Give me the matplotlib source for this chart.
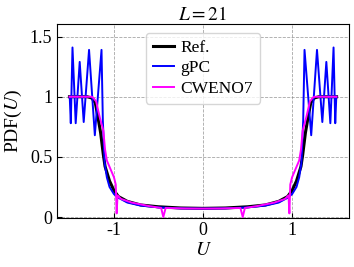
import numpy as np
import matplotlib
matplotlib.use("Agg")
import matplotlib.pyplot as plt

# values (left half; right half mirrors it)
ref_u = [-1.5, -1.3, -1.25, -1.21, -1.18, -1.15, -1.12, -1.10, -1.05, -1.0, -0.95, -0.85, -0.7, -0.5, -0.25, 0.0]
ref_p = [1.0, 1.0, 0.99, 0.95, 0.83, 0.7, 0.52, 0.42, 0.3, 0.22, 0.17, 0.13, 0.1, 0.085, 0.075, 0.072]

gpc_u = [-1.497, -1.485, -1.466, -1.43, -1.385, -1.34, -1.28, -1.215, -1.14, -1.125, -1.105, -1.08,
         -1.05, -1.0, -0.95, -0.85, -0.7, -0.5, -0.25, 0.0]
gpc_p = [1.0, 0.78, 1.41, 0.78, 1.29, 0.79, 1.39, 0.68, 1.39, 0.8, 0.45, 0.33,
         0.25, 0.19, 0.16, 0.12, 0.095, 0.08, 0.072, 0.07]

cw_u = [-1.5, -1.25, -1.23, -1.2, -1.16, -1.12, -1.1, -1.08, -1.04, -1.0, -0.98, -0.97, -0.96,
        -0.92, -0.8, -0.6, -0.47, -0.446, -0.42, -0.2, 0.0]
cw_p = [1.0, 1.0, 0.99, 0.96, 0.83, 0.72, 0.56, 0.47, 0.4, 0.33, 0.27, 0.03, 0.18,
        0.15, 0.12, 0.09, 0.075, 0.0, 0.075, 0.071, 0.07]

xticks = [-1, 0, 1]
xtick_labels = ["-1", "0", "1"]
yticks = [0, 0.5, 1, 1.5]
ytick_labels = ["0", "0.5", "1", "1.5"]


def mirror(u, p):
    u = np.array(u)
    p = np.array(p)
    return np.concatenate([u, -u[-2::-1]]), np.concatenate([p, p[-2::-1]])


plt.rcParams['font.family'] = 'Liberation Serif'
plt.rcParams['mathtext.fontset'] = 'stix'
plt.rcParams['axes.unicode_minus'] = False

fig = plt.figure(figsize=(3.54, 2.67), dpi=100)
ax = fig.add_axes([0.161, 0.185, 0.825, 0.725])

ax.plot(*mirror(ref_u, ref_p), color='black', lw=2.2, label='Ref.', zorder=3)
ax.plot(*mirror(gpc_u, gpc_p), color='#0000ff', lw=1.4, label='gPC', zorder=4)
ax.plot(*mirror(cw_u, cw_p), color='#ff00ff', lw=1.4, label='CWENO7', zorder=5)

ax.set_xlim(-1.64, 1.64)
ax.set_ylim(-0.005, 1.605)
ax.set_xticks(xticks)
ax.set_xticklabels(xtick_labels)
ax.set_yticks(yticks)
ax.set_yticklabels(ytick_labels)
ax.tick_params(direction='in', labelsize=13)
ax.grid(True, ls='--', color='gray', lw=0.6, alpha=0.7)
ax.set_xlabel('$U$', fontsize=14, labelpad=2)
ax.set_ylabel('PDF($U$)', fontsize=14, labelpad=4)
ax.set_title('$L=21$', fontsize=14, pad=3)
ax.legend(loc='upper center', fontsize=12.5, handlelength=1.2, handletextpad=0.4,
          borderpad=0.4, labelspacing=0.25)

fig.savefig('out.png', dpi=100)
